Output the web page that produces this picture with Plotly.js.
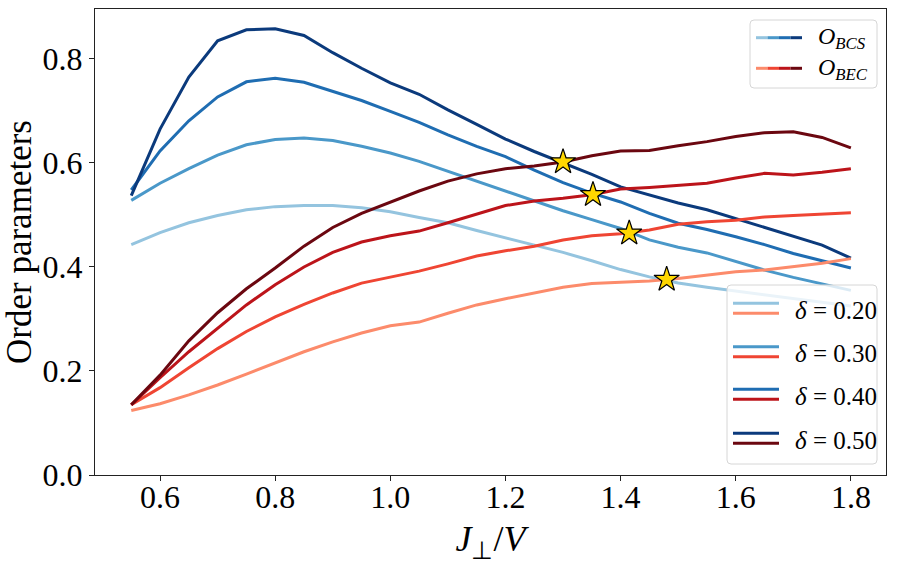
<!DOCTYPE html>
<html>
<head>
<meta charset="utf-8">
<script src="https://cdn.plot.ly/plotly-3.0.1.min.js"></script>
<style>html,body{margin:0;padding:0;background:#fff;}#chart{width:897px;height:564px;}</style>
</head>
<body>
<div id="chart"></div>
<script>
// ---- data ----
const J = [0.55,0.60,0.65,0.70,0.75,0.80,0.85,0.90,0.95,1.00,1.05,1.10,1.15,1.20,1.25,1.30,1.35,1.40,1.45,1.50,1.55,1.60,1.65,1.70,1.75,1.80];

const deltas = ["0.20","0.30","0.40","0.50"];

const bcs_020 = [0.443,0.466,0.485,0.499,0.510,0.516,0.518,0.518,0.514,0.506,0.495,0.485,0.470,0.456,0.443,0.428,0.412,0.395,0.381,0.369,0.361,0.354,0.346,0.339,0.332,0.325];
const bcs_030 = [0.528,0.561,0.589,0.615,0.635,0.645,0.648,0.643,0.632,0.619,0.603,0.584,0.565,0.545,0.526,0.508,0.491,0.474,0.452,0.438,0.427,0.410,0.394,0.380,0.368,0.355];
const bcs_040 = [0.548,0.623,0.681,0.727,0.756,0.763,0.755,0.738,0.720,0.699,0.678,0.654,0.632,0.612,0.586,0.562,0.542,0.525,0.503,0.484,0.472,0.458,0.443,0.426,0.412,0.398];
const bcs_050 = [0.537,0.665,0.765,0.835,0.856,0.858,0.845,0.812,0.782,0.754,0.732,0.702,0.674,0.646,0.622,0.600,0.578,0.554,0.538,0.523,0.510,0.493,0.476,0.460,0.442,0.417];

const bec_020 = [0.124,0.137,0.154,0.173,0.194,0.216,0.237,0.256,0.273,0.287,0.294,0.311,0.327,0.339,0.350,0.361,0.368,0.371,0.373,0.378,0.385,0.391,0.394,0.400,0.407,0.416];
const bec_030 = [0.135,0.168,0.206,0.243,0.276,0.304,0.328,0.350,0.369,0.380,0.392,0.406,0.421,0.431,0.440,0.452,0.460,0.464,0.471,0.482,0.487,0.490,0.496,0.499,0.502,0.504];
const bec_040 = [0.135,0.187,0.237,0.282,0.327,0.366,0.400,0.428,0.448,0.460,0.469,0.485,0.502,0.518,0.527,0.532,0.539,0.550,0.553,0.557,0.561,0.571,0.580,0.577,0.582,0.589];
const bec_050 = [0.135,0.192,0.258,0.312,0.358,0.398,0.440,0.476,0.503,0.524,0.546,0.565,0.579,0.589,0.594,0.602,0.614,0.623,0.624,0.633,0.641,0.651,0.658,0.660,0.649,0.629];

const crossX = [1.300,1.352,1.415,1.480];
const crossY = [0.602,0.539,0.465,0.376];

const yTicks = [0.0,0.2,0.4,0.6,0.8];
const xTicks = [0.6,0.8,1.0,1.2,1.4,1.6,1.8];

// ---- styles ----
const blues = ['#94c4df','#4a98c9','#1f6db2','#0b3a7c'];
const reds  = ['#fc8b6b','#ef4533','#bc141a','#6b0710'];
const FONT = 'Liberation Serif, Times New Roman, serif';

const bcs = [bcs_020,bcs_030,bcs_040,bcs_050];
const bec = [bec_020,bec_030,bec_040,bec_050];

const traces = [];
for (let i=0;i<4;i++){
  traces.push({x:J,y:bcs[i],mode:'lines',line:{color:blues[i],width:3},showlegend:false,hoverinfo:'skip'});
}
for (let i=0;i<4;i++){
  traces.push({x:J,y:bec[i],mode:'lines',line:{color:reds[i],width:3},showlegend:false,hoverinfo:'skip'});
}
traces.push({x:crossX,y:crossY,mode:'markers',
  marker:{symbol:'star',size:19,color:'#FFD700',line:{color:'#000',width:1.2}},showlegend:false,hoverinfo:'skip'});

// plot-area pixel geometry
const L=95, R=886, T=9, B=475;
const W=R-L, H=B-T;
const px = v => (v-L)/W;
const py = v => (B-v)/H;

function roundRect(x0,y0,x1,y1,r){
  const rx=r/W, ry=r/H;
  const X0=px(x0),X1=px(x1),Y0=py(y1),Y1=py(y0);
  return `M ${X0+rx},${Y1} L ${X1-rx},${Y1} Q ${X1},${Y1} ${X1},${Y1-ry} L ${X1},${Y0+ry} Q ${X1},${Y0} ${X1-rx},${Y0} L ${X0+rx},${Y0} Q ${X0},${Y0} ${X0},${Y0+ry} L ${X0},${Y1-ry} Q ${X0},${Y1} ${X0+rx},${Y1} Z`;
}

const shapes=[];
const annotations=[];
// legend 1 (order parameters)
shapes.push({type:'path',xref:'paper',yref:'paper',path:roundRect(750,20,877,88,4),
  fillcolor:'rgba(255,255,255,0.8)',line:{color:'#d6d6d6',width:1}});
const segX0=756, segLen=11.5;
for (let i=0;i<4;i++){
  shapes.push({type:'line',xref:'paper',yref:'paper',x0:px(segX0+i*segLen),x1:px(segX0+(i+1)*segLen),y0:py(37.7),y1:py(37.7),line:{color:blues[i],width:3}});
  shapes.push({type:'line',xref:'paper',yref:'paper',x0:px(segX0+i*segLen),x1:px(segX0+(i+1)*segLen),y0:py(68.3),y1:py(68.3),line:{color:reds[i],width:3}});
}
annotations.push({xref:'paper',yref:'paper',x:px(816),y:py(38),xanchor:'left',yanchor:'middle',showarrow:false,
  text:'<i>O</i><sub><i>BCS</i></sub>',font:{family:FONT,size:24,color:'#000'}});
annotations.push({xref:'paper',yref:'paper',x:px(816),y:py(69),xanchor:'left',yanchor:'middle',showarrow:false,
  text:'<i>O</i><sub><i>BEC</i></sub>',font:{family:FONT,size:24,color:'#000'}});

// legend 2 (delta)
shapes.push({type:'path',xref:'paper',yref:'paper',path:roundRect(727,285,877,464,4),
  fillcolor:'rgba(255,255,255,0.8)',line:{color:'#d6d6d6',width:1}});
const rowY=[303.3,346.7,389.3,433.3];
for (let i=0;i<4;i++){
  shapes.push({type:'line',xref:'paper',yref:'paper',x0:px(733),x1:px(779),y0:py(rowY[i]),y1:py(rowY[i]),line:{color:blues[i],width:3}});
  shapes.push({type:'line',xref:'paper',yref:'paper',x0:px(733),x1:px(779),y0:py(rowY[i]+10),y1:py(rowY[i]+10),line:{color:reds[i],width:3}});
  annotations.push({xref:'paper',yref:'paper',x:px(793),y:py(rowY[i]+7),xanchor:'left',yanchor:'middle',showarrow:false,
    text:'<i>δ</i> = '+deltas[i],font:{family:FONT,size:25,color:'#000'}});
}

const layout = {
  width:897,height:564,
  margin:{l:L,r:897-R,t:T,b:564-B,pad:0},
  paper_bgcolor:'#fff',plot_bgcolor:'#fff',
  showlegend:false,
  font:{family:FONT,color:'#000'},
  xaxis:{range:[0.487,1.861],tickvals:xTicks,ticktext:xTicks.map(v=>v.toFixed(1)),
    ticks:'outside',ticklen:5,tickwidth:1,tickcolor:'#222',ticklabelstandoff:-12,
    showline:true,linecolor:'#222',linewidth:1.2,mirror:true,showgrid:false,zeroline:false,
    tickfont:{family:FONT,size:32,color:'#000'},
    title:{text:'<i>J</i><sub>⊥</sub>/<i>V</i>',font:{family:FONT,size:36,color:'#000'},standoff:14}},
  yaxis:{range:[0,0.896],tickvals:yTicks,ticktext:yTicks.map(v=>v.toFixed(1)),
    ticks:'outside',ticklen:5,tickwidth:1,tickcolor:'#222',
    showline:true,linecolor:'#222',linewidth:1.2,mirror:true,showgrid:false,zeroline:false,
    tickfont:{family:FONT,size:32,color:'#000'},
    title:{text:'Order parameters',font:{family:FONT,size:35,color:'#000'},standoff:6}},
  shapes:shapes,
  annotations:annotations
};

Plotly.newPlot('chart',traces,layout,{displayModeBar:false,staticPlot:true});
</script>
</body>
</html>
